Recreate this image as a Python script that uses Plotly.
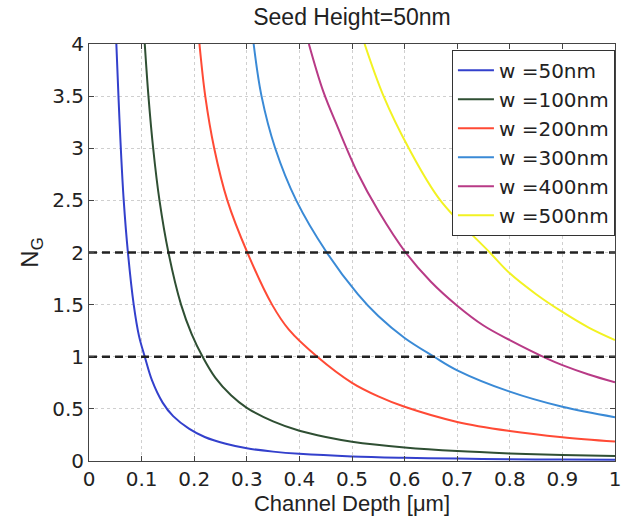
import plotly.graph_objects as go

# Channel depth [um] and N_G values, per seed width
d_50 = [0.052, 0.056, 0.060, 0.066, 0.074, 0.085, 0.095, 0.106, 0.12, 0.14, 0.16, 0.19, 0.22, 0.26, 0.30, 0.35, 0.40, 0.50, 0.60, 0.70, 0.80, 0.90, 1.00]
n_50 = [4.0, 3.5, 3.05, 2.5, 2.0, 1.5, 1.2, 1.0, 0.77, 0.56, 0.43, 0.31, 0.23, 0.165, 0.122, 0.09, 0.069, 0.044, 0.031, 0.023, 0.017, 0.014, 0.011]

d_100 = [0.106, 0.113, 0.122, 0.134, 0.151, 0.175, 0.195, 0.216, 0.24, 0.27, 0.30, 0.35, 0.40, 0.45, 0.50, 0.60, 0.70, 0.80, 0.90, 1.00]
n_100 = [4.0, 3.5, 3.0, 2.5, 2.0, 1.5, 1.22, 1.0, 0.80, 0.63, 0.51, 0.38, 0.29, 0.23, 0.185, 0.13, 0.095, 0.073, 0.058, 0.047]

d_200 = [0.210, 0.221, 0.238, 0.263, 0.301, 0.348, 0.38, 0.434, 0.50, 0.55, 0.60, 0.70, 0.80, 0.90, 1.00]
n_200 = [4.0, 3.5, 3.0, 2.5, 2.0, 1.5, 1.26, 1.0, 0.75, 0.62, 0.52, 0.375, 0.288, 0.228, 0.186]

d_300 = [0.313, 0.328, 0.354, 0.394, 0.452, 0.511, 0.55, 0.60, 0.656, 0.70, 0.80, 0.90, 1.00]
n_300 = [4.0, 3.5, 3.0, 2.5, 2.0, 1.6, 1.39, 1.18, 1.0, 0.87, 0.665, 0.52, 0.42]

d_400 = [0.418, 0.445, 0.473, 0.511, 0.55, 0.602, 0.65, 0.70, 0.75, 0.80, 0.872, 0.90, 0.95, 1.00]
n_400 = [4.0, 3.55, 3.2, 2.76, 2.4, 2.0, 1.72, 1.49, 1.3, 1.16, 0.98, 0.92, 0.83, 0.755]

d_500 = [0.524, 0.56, 0.608, 0.668, 0.762, 0.80, 0.85, 0.90, 0.95, 1.00]
n_500 = [4.0, 3.5, 3.0, 2.5, 2.0, 1.8, 1.6, 1.43, 1.28, 1.16]

labels = ["w =50nm", "w =100nm", "w =200nm", "w =300nm", "w =400nm", "w =500nm"]
ref_levels = [1, 2]
ref_x = [0, 1]

series = [(d_50, n_50), (d_100, n_100), (d_200, n_200), (d_300, n_300), (d_400, n_400), (d_500, n_500)]
colors = ["#3340cc", "#2f4f33", "#ff4a35", "#3a8ad6", "#b83a86", "#f2f222"]

fig = go.Figure()
for (xs, ys), lab, col in zip(series, labels, colors):
    fig.add_trace(go.Scatter(x=xs, y=ys, mode="lines", name=lab,
                             line=dict(color=col, width=2, shape="spline", smoothing=1.0)))
for lv in ref_levels:
    fig.add_trace(go.Scatter(x=ref_x, y=[lv, lv], mode="lines", showlegend=False,
                             line=dict(color="#222222", width=2.5, dash="8px,5px")))

fig.update_layout(
    width=627, height=518,
    margin=dict(l=89, r=6, t=44, b=57),
    paper_bgcolor="white", plot_bgcolor="white",
    font=dict(family="Liberation Sans, Arial, sans-serif", color="#222222"),
    title=dict(text="Seed Height=50nm", x=0.5, xref="paper", xanchor="center",
               y=0.967, yanchor="middle", font=dict(size=23, color="#222222")),
    showlegend=True,
    legend=dict(x=0.69, y=0.986, xanchor="left", yanchor="top",
                bgcolor="white", bordercolor="#333333", borderwidth=1,
                font=dict(family="DejaVu Sans", size=20, color="#222222"), itemwidth=36,
                tracegroupgap=0),
)
fig.update_xaxes(range=[0, 1], tickvals=[0, 0.1, 0.2, 0.3, 0.4, 0.5, 0.6, 0.7, 0.8, 0.9, 1],
                 ticktext=["0", "0.1", "0.2", "0.3", "0.4", "0.5", "0.6", "0.7", "0.8", "0.9", "1"],
                 ticks="inside", ticklen=5, tickcolor="#444444", ticklabeloverflow="allow",
                 showline=True, linecolor="#444444", linewidth=1, mirror="ticks",
                 showgrid=True, gridcolor="#cfcfcf", griddash="dot", gridwidth=1,
                 zeroline=False, tickfont=dict(family="DejaVu Sans", size=20),
                 title=dict(text="Channel Depth [\u03bcm]", font=dict(size=22), standoff=0))
fig.update_yaxes(range=[0, 4], tickvals=[0, 0.5, 1, 1.5, 2, 2.5, 3, 3.5, 4],
                 ticktext=["0", "0.5", "1", "1.5", "2", "2.5", "3", "3.5", "4"],
                 ticks="inside", ticklen=5, tickcolor="#444444", ticklabeloverflow="allow",
                 showline=True, linecolor="#444444", linewidth=1, mirror="ticks",
                 showgrid=True, gridcolor="#cfcfcf", griddash="dot", gridwidth=1,
                 zeroline=False, tickfont=dict(family="DejaVu Sans", size=20),
                 title=dict(text="N<sub>G</sub>", font=dict(size=24), standoff=6))

fig.write_html("out.html")
